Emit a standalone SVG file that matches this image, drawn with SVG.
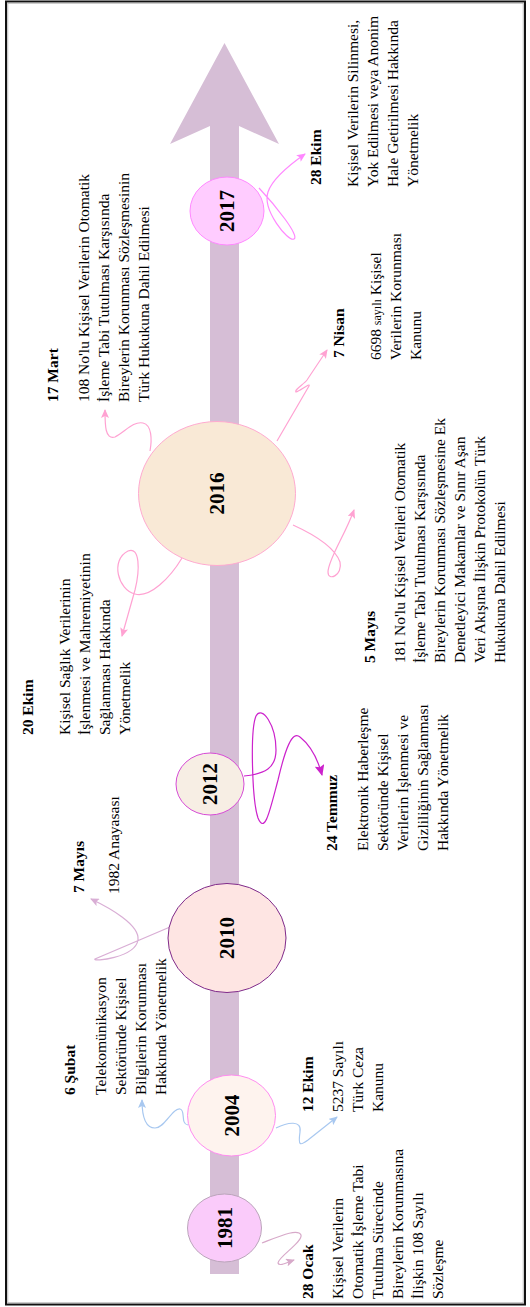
<svg xmlns="http://www.w3.org/2000/svg" width="530" height="1307" viewBox="0 0 530 1307">
<style>
.t{font-family:"Liberation Serif","Times New Roman",serif;font-size:15.5px;fill:#000}
.d{font-family:"Liberation Serif","Times New Roman",serif;font-size:15.5px;font-weight:bold;fill:#000}
.y{font-family:"Liberation Serif","Times New Roman",serif;font-size:21px;font-weight:bold;fill:#000;text-anchor:middle}
.c{fill:none;stroke-width:1.2}
</style>
<defs>
<marker id="mBlue" markerUnits="userSpaceOnUse" markerWidth="9" markerHeight="8" refX="8" refY="4" orient="auto"><path d="M0,0 L9,4 L0,8 L2,4 z" fill="#A8C8F0"/></marker>
<marker id="mMauve" markerUnits="userSpaceOnUse" markerWidth="9" markerHeight="8" refX="8" refY="4" orient="auto"><path d="M0,0 L9,4 L0,8 L2,4 z" fill="#D7A9C9"/></marker>
<marker id="mMauve2" markerUnits="userSpaceOnUse" markerWidth="9" markerHeight="8" refX="8" refY="4" orient="auto"><path d="M0,0 L9,4 L0,8 L2,4 z" fill="#D9AED5"/></marker>
<marker id="mMag" markerUnits="userSpaceOnUse" markerWidth="11" markerHeight="10" refX="10" refY="5" orient="auto"><path d="M0,0 L11,5 L0,10 L2,5 z" fill="#CC22CC"/></marker>
<marker id="mPink" markerUnits="userSpaceOnUse" markerWidth="9" markerHeight="8" refX="8" refY="4" orient="auto"><path d="M0,0 L9,4 L0,8 L2,4 z" fill="#FFA2D2"/></marker>
<marker id="mPink2" markerUnits="userSpaceOnUse" markerWidth="9" markerHeight="8" refX="8" refY="4" orient="auto"><path d="M0,0 L9,4 L0,8 L2,4 z" fill="#FF88FF"/></marker>
</defs>
<rect x="0" y="0" width="530" height="1307" fill="#fff"/>
<rect x="6" y="1.5" width="519" height="1303" fill="none" stroke="#111" stroke-width="2"/>
<rect x="7.8" y="3.2" width="515.4" height="1299.6" fill="none" stroke="#aaa" stroke-width="0.8"/>

<g id="timeline-arrow">
<polygon points="224.5,43 279,144 239,126 239,1274 210,1274 210,126 170,144" fill="#D6BED6"/>
</g>

<g id="connectors">
<path class="c" d="M262,1243 C280,1236 298,1228 301,1235 C303,1242 278,1257 278,1263 C279,1267 288,1262 294,1260" stroke="#D7A9C9" marker-end="url(#mMauve)"/>
<path class="c" d="M188,1125 C180,1124 186,1110 180,1109 C172,1108 165,1128 155,1128 C145,1128 142,1115 142,1100" stroke="#A8C8F0" marker-end="url(#mBlue)"/>
<path class="c" d="M276,1128 C288,1122 302,1120 300,1132 C298,1146 300,1146 308,1140 L337,1117" stroke="#A8C8F0" marker-end="url(#mBlue)"/>
<path class="c" d="M170,927 L95,959 C92,962 135,958 138,940 C140,925 110,908 91,899" stroke="#D9AED5" marker-end="url(#mMauve2)"/>
<path class="c" d="M244,776 C265,774 276,768 276,750 C276,725 262,705 256,716 C250,730 252,800 258,818 C265,835 270,810 278,780 C285,750 292,730 300,737 C310,745 318,760 322,775" stroke="#CC22CC" stroke-width="1.4" marker-end="url(#mMag)"/>
<path class="c" d="M150,451 C152,440 152,425 143,423 C133,421 125,432 115,437 C105,440 105,425 105,410" stroke="#FFA2D2" marker-end="url(#mPink)"/>
<path class="c" d="M182,558 C170,578 150,598 135,594 C118,590 110,560 128,551 C140,546 140,570 135,590 L122,636" stroke="#FFA2D2" marker-end="url(#mPink)"/>
<path class="c" d="M277,441 L309,386 C311,382 300,391 296,392 C294,390 304,384 307,380 L327,350" stroke="#FFA2D2" marker-end="url(#mPink)"/>
<path class="c" d="M293,525 C315,535 335,548 340,562 C343,575 328,582 328,572 C328,560 345,535 354,510" stroke="#FFA2D2" marker-end="url(#mPink)"/>
<path class="c" d="M259,188 C275,205 300,236 294,239 C288,242 262,210 268,192 C272,180 285,168 305,154" stroke="#FF88FF" marker-end="url(#mPink2)"/>
</g>

<g id="n1981">
<ellipse cx="224.5" cy="1228" rx="37" ry="34" fill="#FACBFA" stroke="#BBA5BB" stroke-width="1"/>
<text class="y" transform="translate(231.5,1228) rotate(-90)">1981</text>
</g>
<g id="n2004">
<ellipse cx="231.5" cy="1115.5" rx="44" ry="40.5" fill="#FEF3EE" stroke="#FF8CF0" stroke-width="1"/>
<text class="y" transform="translate(238.5,1115.5) rotate(-90)">2004</text>
</g>
<g id="n2010">
<ellipse cx="227" cy="938" rx="59" ry="54.5" fill="#FEE5E3" stroke="#7F2A8A" stroke-width="1"/>
<text class="y" transform="translate(234,938) rotate(-90)">2010</text>
</g>
<g id="n2012">
<ellipse cx="210" cy="784" rx="34" ry="31" fill="#F7EEE4" stroke="#D64BD6" stroke-width="1"/>
<text class="y" transform="translate(217,784) rotate(-90)">2012</text>
</g>
<g id="n2016">
<ellipse cx="217" cy="493.5" rx="78.5" ry="72" fill="#F9E9D6" stroke="#FFAAD0" stroke-width="1"/>
<text class="y" transform="translate(224,493.5) rotate(-90)">2016</text>
</g>
<g id="n2017">
<ellipse cx="227" cy="211" rx="37" ry="34" fill="#FFCCFF" stroke="#FF88FF" stroke-width="1"/>
<text class="y" transform="translate(234,211) rotate(-90)">2017</text>
</g>

<g id="e-28ocak">
<text class="d" transform="translate(313,1299) rotate(-90)">28 Ocak</text>
<text class="t" transform="translate(343,1299) rotate(-90)"><tspan x="0" y="0">Kişisel Verilerin</tspan><tspan x="0" y="20">Otomatik İşleme Tabi</tspan><tspan x="0" y="40">Tutulma Sürecinde</tspan><tspan x="0" y="60">Bireylerin Korunmasına</tspan><tspan x="0" y="80">İlişkin 108 Sayılı</tspan><tspan x="0" y="100">Sözleşme</tspan></text>
</g>
<g id="e-12ekim">
<text class="d" transform="translate(313,1112) rotate(-90)">12 Ekim</text>
<text class="t" transform="translate(343,1112) rotate(-90)"><tspan x="0" y="0">5237 Sayılı</tspan><tspan x="0" y="20">Türk Ceza</tspan><tspan x="0" y="40">Kanunu</tspan></text>
</g>
<g id="e-6subat">
<text class="d" transform="translate(75,1095) rotate(-90)">6 Şubat</text>
<text class="t" transform="translate(106,1095) rotate(-90)"><tspan x="0" y="0">Telekomünikasyon</tspan><tspan x="0" y="20">Sektöründe Kişisel</tspan><tspan x="0" y="40">Bilgilerin Korunması</tspan><tspan x="0" y="60">Hakkında Yönetmelik</tspan></text>
</g>
<g id="e-7mayis">
<text class="d" transform="translate(84,893) rotate(-90)">7 Mayıs</text>
<text class="t" transform="translate(119,894) rotate(-90)">1982 Anayasası</text>
</g>
<g id="e-24temmuz">
<text class="d" transform="translate(337,851) rotate(-90)">24 Temmuz</text>
<text class="t" transform="translate(368,851) rotate(-90)"><tspan x="0" y="0">Elektronik Haberleşme</tspan><tspan x="0" y="20">Sektöründe Kişisel</tspan><tspan x="0" y="40">Verilerin İşlenmesi ve</tspan><tspan x="0" y="60">Gizliliğinin Sağlanması</tspan><tspan x="0" y="80">Hakkında Yönetmelik</tspan></text>
</g>
<g id="e-20ekim">
<text class="d" transform="translate(33,735) rotate(-90)">20 Ekim</text>
<text class="t" transform="translate(70,735) rotate(-90)"><tspan x="0" y="0">Kişisel Sağlık Verilerinin</tspan><tspan x="0" y="20">İşlenmesi ve Mahremiyetinin</tspan><tspan x="0" y="40">Sağlanması Hakkında</tspan><tspan x="0" y="60">Yönetmelik</tspan></text>
</g>
<g id="e-5mayis">
<text class="d" transform="translate(375,663) rotate(-90)">5 Mayıs</text>
<text class="t" transform="translate(405,663) rotate(-90)"><tspan x="0" y="0">181 No'lu Kişisel Verileri Otomatik</tspan><tspan x="0" y="20">İşleme Tabi Tutulması Karşısında</tspan><tspan x="0" y="40">Bireylerin Korunması Sözleşmesine Ek</tspan><tspan x="0" y="60">Denetleyici Makamlar ve Sınır Aşan</tspan><tspan x="0" y="80">Veri Akışına İlişkin Protokolün Türk</tspan><tspan x="0" y="100">Hukukuna Dahil Edilmesi</tspan></text>
</g>
<g id="e-17mart">
<text class="d" transform="translate(58,402) rotate(-90)">17 Mart</text>
<text class="t" transform="translate(89,402) rotate(-90)"><tspan x="0" y="0">108 No'lu Kişisel Verilerin Otomatik</tspan><tspan x="0" y="20">İşleme Tabi Tutulması Karşısında</tspan><tspan x="0" y="40">Bireylerin Korunması Sözleşmesinin</tspan><tspan x="0" y="60">Türk Hukukuna Dahil Edilmesi</tspan></text>
</g>
<g id="e-7nisan">
<text class="d" transform="translate(344,358) rotate(-90)">7 Nisan</text>
<text class="t" transform="translate(381,360) rotate(-90)"><tspan x="0" y="0">6698 <tspan font-size="12px">sayılı</tspan> Kişisel</tspan><tspan x="0" y="20">Verilerin Korunması</tspan><tspan x="0" y="40">Kanunu</tspan></text>
</g>
<g id="e-28ekim">
<text class="d" transform="translate(321,185) rotate(-90)">28 Ekim</text>
<text class="t" transform="translate(358,187) rotate(-90)"><tspan x="0" y="0">Kişisel Verilerin Silinmesi,</tspan><tspan x="0" y="20">Yok Edilmesi veya Anonim</tspan><tspan x="0" y="40">Hale Getirilmesi Hakkında</tspan><tspan x="0" y="60">Yönetmelik</tspan></text>
</g>
</svg>
